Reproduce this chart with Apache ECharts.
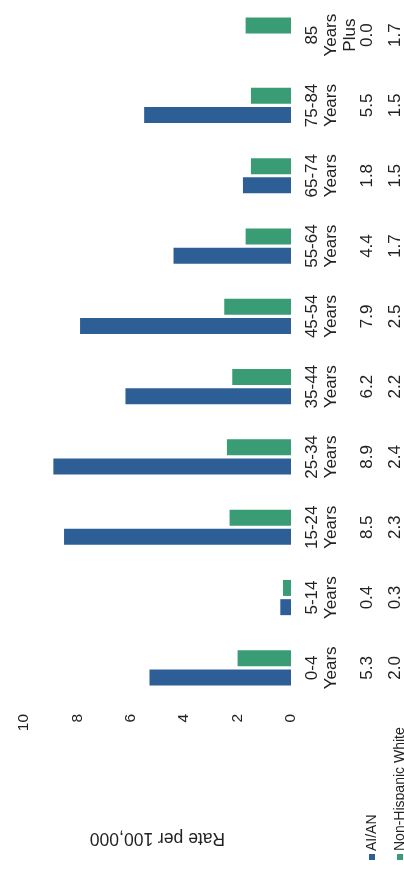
<!DOCTYPE html>
<html>
<head>
<meta charset="utf-8">
<script src="https://cdn.jsdelivr.net/npm/echarts@6/dist/echarts.min.js"></script>
<style>
  html, body { margin: 0; padding: 0; background: #fff; }
  #chart { width: 404px; height: 869px; }
</style>
</head>
<body>
<div id="chart"></div>
<script>
// age groups, bottom to top in the rotated picture
var categories = ['0-4\nYears', '5-14\nYears', '15-24\nYears', '25-34\nYears', '35-44\nYears',
  '45-54\nYears', '55-64\nYears', '65-74\nYears', '75-84\nYears', '85\nYears\nPlus']
var aianData = [5.3, 0.4, 8.5, 8.9, 6.2, 7.9, 4.4, 1.8, 5.5, 0.0]
var nhwData = [2.0, 0.3, 2.3, 2.4, 2.2, 2.5, 1.7, 1.5, 1.5, 1.7]
var seriesNames = ['AI/AN', 'Non-Hispanic White']
var colors = ['#2d5e95', '#3a9c74']

var font = 'Liberation Sans, Arial, sans-serif'
var textColor = '#222'

var chart = echarts.init(document.getElementById('chart'))

function tableAxis(values, margin) {
  return {
    type: 'category',
    data: categories,
    position: 'right',
    axisLine: { show: false },
    axisTick: { show: false },
    splitLine: { show: false },
    axisLabel: {
      rotate: 90,
      margin: margin,
      interval: 0,
      color: textColor,
      fontFamily: font,
      fontSize: 17,
      formatter: function(val, idx) {
        return values[idx].toFixed(1)
      }
    }
  }
}

var option = {
  animation: false,
  grid: {
    left: 24,
    right: 112,
    top: -10,
    bottom: 166
  },
  xAxis: {
    type: 'value',
    inverse: true,
    min: 0,
    max: 10,
    interval: 2,
    name: 'Rate per 100,000',
    nameLocation: 'middle',
    nameGap: 126,
    nameRotate: 180,
    nameTextStyle: {
      color: textColor,
      fontFamily: font,
      fontSize: 17.5
    },
    axisLine: { show: false },
    axisTick: { show: false },
    splitLine: { show: false },
    axisLabel: {
      rotate: 90,
      margin: 11,
      color: textColor,
      fontFamily: font,
      fontSize: 15.5
    }
  },
  yAxis: [
    {
      type: 'category',
      data: categories,
      position: 'right',
      axisLine: { show: false },
      axisTick: { show: false },
      splitLine: { show: false },
      axisLabel: {
        rotate: 90,
        margin: 12,
        interval: 0,
        color: textColor,
        fontFamily: font,
        fontSize: 17,
        lineHeight: 19
      }
    },
    tableAxis(aianData, 68),
    tableAxis(nhwData, 96)
  ],
  // NHW first so the AI/AN bar sits below it in each group
  series: [
    {
      name: seriesNames[1],
      type: 'bar',
      yAxisIndex: 0,
      data: nhwData,
      barWidth: 16,
      barGap: '20%',
      itemStyle: { color: colors[1] }
    },
    {
      name: seriesNames[0],
      type: 'bar',
      yAxisIndex: 0,
      data: aianData,
      barWidth: 16,
      barGap: '20%',
      itemStyle: { color: colors[0] }
    }
  ],
  // legend keys sit at the start of the data table rows
  graphic: seriesNames.map(function(name, i) {
    var x = 372 + i * 28
    return {
      type: 'group',
      children: [
        { type: 'rect', shape: { x: x - 3, y: 854, width: 6, height: 6 }, style: { fill: colors[i] } },
        {
          type: 'text',
          x: x,
          y: 851,
          rotation: Math.PI / 2,
          style: {
            text: name,
            align: 'left',
            verticalAlign: 'middle',
            fill: textColor,
            font: '14px ' + font
          }
        }
      ]
    }
  })
}

chart.setOption(option, true)
</script>
</body>
</html>
